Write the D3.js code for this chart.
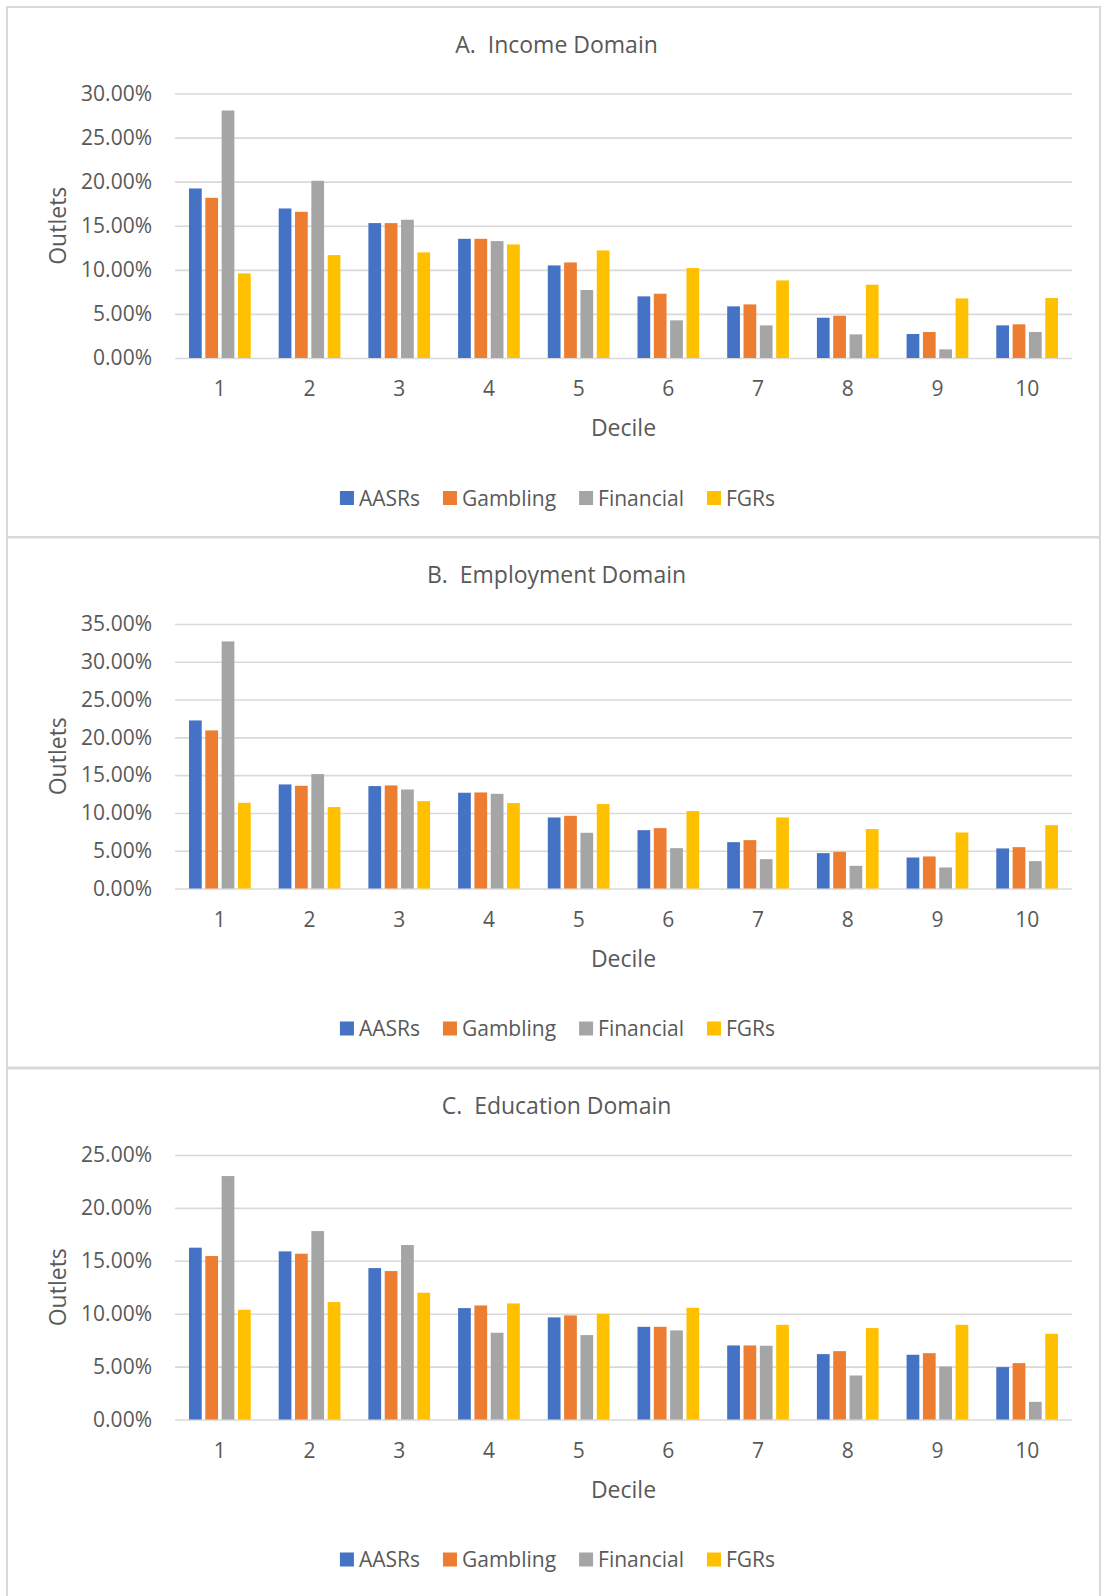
<!DOCTYPE html>
<html>
<head>
<meta charset="utf-8">
<script src="https://cdn.jsdelivr.net/npm/d3@7"></script>
<style>
  html, body { margin: 0; padding: 0; background: #fff; }
  svg { display: block; font-family: "Open Sans", "Noto Sans", sans-serif; }
</style>
</head>
<body>
<svg id="chart" width="1104" height="1596"></svg>
<script>
// Share of outlets by deprivation decile, three domains
const deciles = ["1", "2", "3", "4", "5", "6", "7", "8", "9", "10"];
const seriesNames = ["AASRs", "Gambling", "Financial", "FGRs"];
const seriesColors = ["#4472C4", "#ED7D31", "#A5A5A5", "#FFC000"];

const panelTitles = ["A.  Income Domain", "B.  Employment Domain", "C.  Education Domain"];
const panelMax = [0.30, 0.35, 0.25];

// Income domain
const incomeAASRs     = [0.1923, 0.1696, 0.1530, 0.1352, 0.1050, 0.0699, 0.0586, 0.0457, 0.0272, 0.0370];
const incomeGambling  = [0.1817, 0.1658, 0.1530, 0.1352, 0.1084, 0.0729, 0.0608, 0.0480, 0.0295, 0.0382];
const incomeFinancial = [0.2807, 0.2010, 0.1568, 0.1326, 0.0771, 0.0427, 0.0370, 0.0268, 0.0098, 0.0295];
const incomeFGRs      = [0.0960, 0.1167, 0.1198, 0.1288, 0.1220, 0.1020, 0.0880, 0.0831, 0.0676, 0.0680];

// Employment domain
const employAASRs     = [0.2224, 0.1377, 0.1355, 0.1267, 0.0940, 0.0772, 0.0613, 0.0468, 0.0410, 0.0530];
const employGambling  = [0.2092, 0.1359, 0.1364, 0.1271, 0.0962, 0.0799, 0.0640, 0.0485, 0.0424, 0.0547];
const employFinancial = [0.3270, 0.1514, 0.1310, 0.1253, 0.0737, 0.0534, 0.0388, 0.0300, 0.0278, 0.0362];
const employFGRs      = [0.1134, 0.1077, 0.1156, 0.1130, 0.1117, 0.1024, 0.0940, 0.0786, 0.0741, 0.0838];

// Education domain
const eduAASRs     = [0.1624, 0.1589, 0.1431, 0.1053, 0.0965, 0.0876, 0.0700, 0.0618, 0.0612, 0.0495];
const eduGambling  = [0.1545, 0.1567, 0.1403, 0.1078, 0.0984, 0.0876, 0.0700, 0.0646, 0.0627, 0.0533];
const eduFinancial = [0.2301, 0.1781, 0.1649, 0.0820, 0.0798, 0.0842, 0.0697, 0.0416, 0.0501, 0.0167];
const eduFGRs      = [0.1037, 0.1110, 0.1198, 0.1097, 0.0999, 0.1056, 0.0895, 0.0864, 0.0895, 0.0810];

const panelData = [
  [incomeAASRs, incomeGambling, incomeFinancial, incomeFGRs],
  [employAASRs, employGambling, employFinancial, employFGRs],
  [eduAASRs, eduGambling, eduFinancial, eduFGRs]
];

const svg = d3.select("#chart");
const textColor = "#595959";
const gridColor = "#D9D9D9";

const panelLeft = 7, panelRight = 1100;
const panelTops = [7, 537.5, 1068.5];
const panelHeight = 530;
const plotLeft = 175, plotRight = 1072;
const yTop = 86.5, yZero = 351;

const x0 = d3.scaleBand().domain(deciles).range([plotLeft, plotRight])
  .paddingInner(0.312).paddingOuter(0.156);
const x1 = d3.scaleBand().domain(seriesNames).range([0, x0.bandwidth()])
  .paddingInner(0.22);

panelTitles.forEach((title, pi) => {
  const top = panelTops[pi];
  const g = svg.append("g").attr("transform", `translate(0,${top})`);

  // frame
  g.append("rect")
    .attr("x", panelLeft).attr("y", 0)
    .attr("width", panelRight - panelLeft).attr("height", panelHeight)
    .attr("fill", "none").attr("stroke", gridColor).attr("stroke-width", 2);

  // title
  g.append("text")
    .attr("x", (panelLeft + panelRight) / 2 + 3).attr("y", 45.5)
    .attr("text-anchor", "middle").attr("fill", textColor)
    .attr("font-size", 23)
    .style("white-space", "pre")
    .text(title);

  const y = d3.scaleLinear().domain([0, panelMax[pi]]).range([yZero, yTop]);
  const ticks = d3.range(0, panelMax[pi] + 1e-9, 0.05);

  // gridlines and y axis labels
  const yAxis = d3.axisLeft(y).tickValues(ticks).tickFormat(d3.format(".2%"))
    .tickSize(-(plotRight - plotLeft)).tickPadding(23);
  const ya = g.append("g").attr("transform", `translate(${plotLeft},0)`).call(yAxis);
  ya.select(".domain").remove();
  ya.selectAll(".tick line").attr("stroke", gridColor).attr("stroke-width", 1.6);
  ya.selectAll(".tick text").attr("fill", textColor)
    .attr("font-size", 21).attr("font-family", "Open Sans, sans-serif");

  // bars
  const groups = g.append("g").selectAll("g")
    .data(deciles).join("g")
    .attr("transform", d => `translate(${x0(d)},0)`);
  groups.selectAll("rect")
    .data((d, i) => seriesNames.map((s, si) => ({ s, si, v: panelData[pi][si][i] })))
    .join("rect")
    .attr("x", d => x1(d.s))
    .attr("width", x1.bandwidth())
    .attr("y", d => y(d.v))
    .attr("height", d => yZero - y(d.v))
    .attr("fill", d => seriesColors[d.si]);

  // x axis labels
  const xAxis = d3.axisBottom(x0).tickSize(0).tickPadding(0);
  const xa = g.append("g").attr("transform", `translate(0,${yZero})`).call(xAxis);
  xa.select(".domain").remove();
  xa.selectAll(".tick text").attr("fill", textColor)
    .attr("font-size", 21).attr("font-family", "Open Sans, sans-serif")
    .attr("y", 38).attr("dy", null);

  // axis titles
  g.append("text")
    .attr("x", (plotLeft + plotRight) / 2).attr("y", 429)
    .attr("text-anchor", "middle").attr("fill", textColor)
    .attr("font-size", 23).text("Decile");
  g.append("text")
    .attr("transform", `translate(66,${(yTop + yZero) / 2}) rotate(-90)`)
    .attr("text-anchor", "middle").attr("fill", textColor)
    .attr("font-size", 23).text("Outlets");

  // legend
  const lg = g.append("g");
  let cx = 0;
  seriesNames.forEach((s, si) => {
    const item = lg.append("g").attr("transform", `translate(${cx},0)`);
    item.append("rect").attr("x", 0).attr("y", -7).attr("width", 14).attr("height", 14)
      .attr("fill", seriesColors[si]);
    const t = item.append("text").attr("x", 19).attr("y", 7.5)
      .attr("fill", textColor).attr("font-size", 21).text(s);
    cx += 19 + t.node().getComputedTextLength() + 23;
  });
  const legendWidth = cx - 23;
  lg.attr("transform", `translate(${(panelLeft + panelRight) / 2 - legendWidth / 2 + 4},491)`);
});
</script>
</body>
</html>
